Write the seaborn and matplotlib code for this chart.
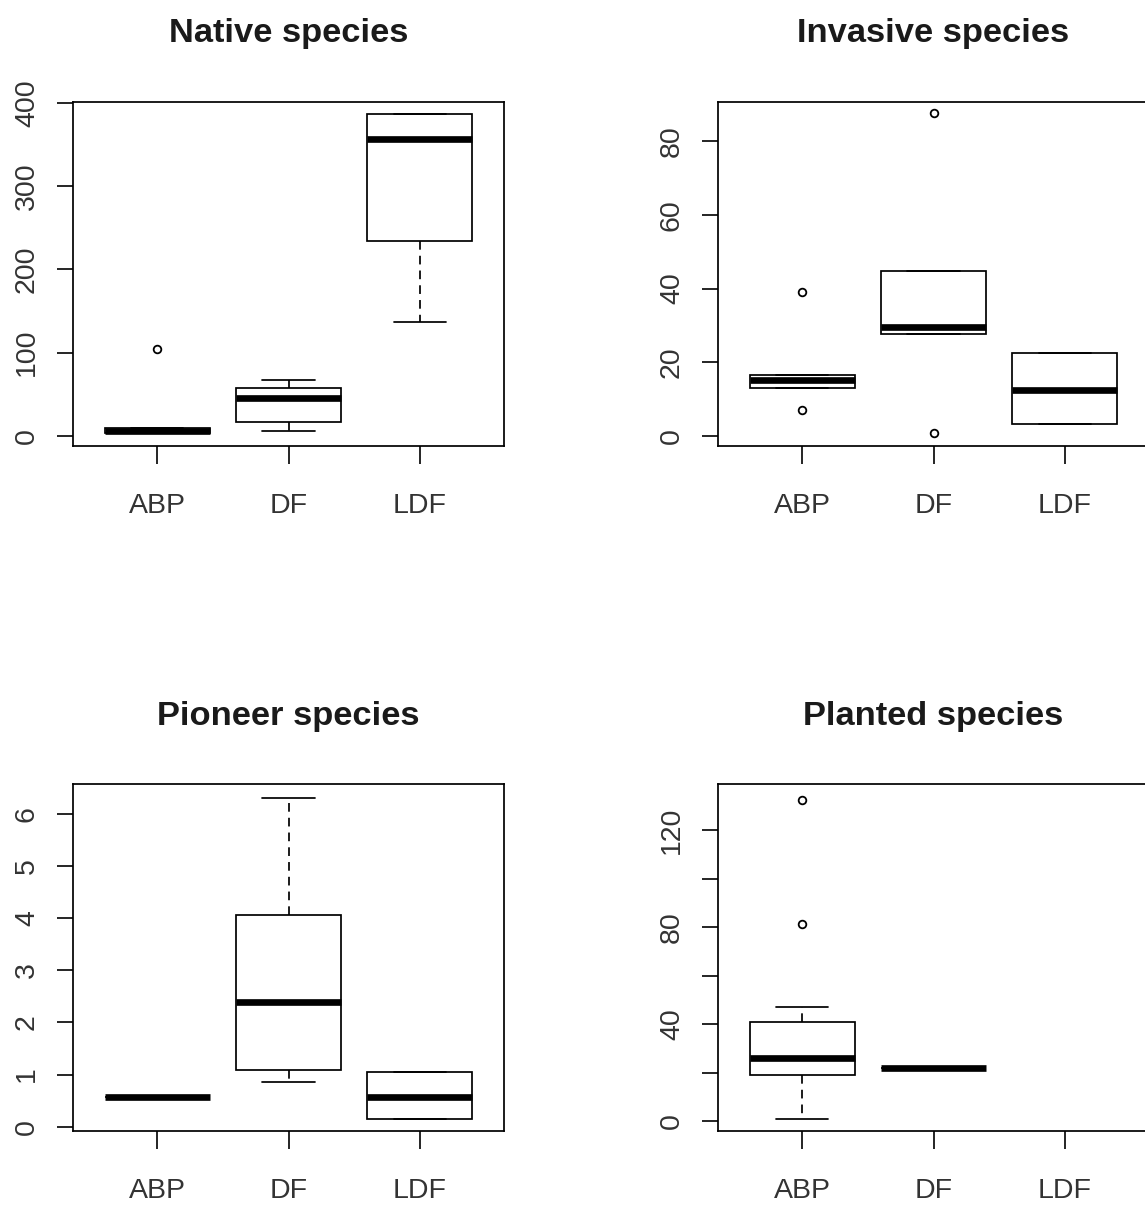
import matplotlib
matplotlib.use("Agg")
import matplotlib.pyplot as plt
import pandas as pd
import seaborn as sns

sites = ["ABP", "DF", "LDF"]

# sample values per site (quartiles, whiskers, outliers)
native_abp = [3, 3, 3, 5, 6, 8, 10, 10, 105]
native_df = [5.6, 12, 17, 30, 46, 52, 58, 63, 67]
native_ldf = [137, 180, 234, 300, 356, 370, 386, 386, 386]

invasive_abp = [7, 13, 13, 14, 15.2, 16, 16.6, 16.6, 39]
invasive_df = [0.7, 27.8, 27.8, 28.5, 29.6, 38, 44.8, 44.8, 87.5]
invasive_ldf = [3.25, 3.25, 3.25, 8, 12.5, 18, 22.4, 22.4, 22.4]

pioneer_abp = [0.57, 0.57, 0.57, 0.57, 0.57]
pioneer_df = [0.85, 1.0, 1.08, 1.8, 2.39, 3.2, 4.05, 5.1, 6.3]
pioneer_ldf = [0.15, 0.15, 0.15, 0.4, 0.565, 0.8, 1.04, 1.04, 1.04]

planted_abp = [0.8, 10, 15, 19, 21, 24, 26.2, 30, 36, 41.1, 47.2, 81.4, 132.6]
planted_df = [21.8, 21.8, 21.8]
planted_ldf = []

native_ticks = [0, 100, 200, 300, 400]
invasive_ticks = [0, 20, 40, 60, 80]
pioneer_ticks = [0, 1, 2, 3, 4, 5, 6]
planted_ticks = [0, 20, 40, 60, 80, 100, 120]
planted_labels = ["0", "", "40", "", "80", "", "120"]


def long_df(groups):
    rows = []
    for site, vals in zip(sites, groups):
        rows += [(site, v) for v in vals]
    return pd.DataFrame(rows, columns=["site", "value"])


sns.set_style("ticks")
plt.rcParams["font.family"] = ["Liberation Sans", "DejaVu Sans"]
plt.rcParams["axes.linewidth"] = 1.2
plt.rcParams["axes.edgecolor"] = "black"

fig = plt.figure(figsize=(11.45, 12.07), dpi=100)

panels = [
    ("Native species", [native_abp, native_df, native_ldf], (-12, 401),
     native_ticks, None, [0.0638, 0.6305, 0.3764, 0.2850]),
    ("Invasive species", [invasive_abp, invasive_df, invasive_ldf], (-2.7, 90.6),
     invasive_ticks, None, [0.6271, 0.6305, 0.3764, 0.2850]),
    ("Pioneer species", [pioneer_abp, pioneer_df, pioneer_ldf], (-0.09, 6.56),
     pioneer_ticks, None, [0.0638, 0.0626, 0.3764, 0.2875]),
    ("Planted species", [planted_abp, planted_df, planted_ldf], (-4.2, 139),
     planted_ticks, planted_labels, [0.6271, 0.0626, 0.3764, 0.2875]),
]

for title, groups, ylim, ticks, labels, pos in panels:
    ax = fig.add_axes(pos)
    df = long_df(groups)
    sns.boxplot(data=df, x="site", y="value", order=sites, ax=ax,
                color="white", linecolor="black", saturation=1,
                linewidth=1.25, width=0.8, whis=1.5, fliersize=5.5,
                whiskerprops={"linestyle": (0, (5, 3.5))},
                medianprops={"linewidth": 4.8, "solid_capstyle": "butt"},
                flierprops={"marker": "o", "markerfacecolor": "white",
                            "markeredgewidth": 1.3})
    ax.set_xlim(-0.64, 2.64)
    ax.set_ylim(*ylim)
    ax.set_yticks(ticks)
    if labels is not None:
        ax.set_yticklabels(labels)
    ax.set_xlabel("")
    ax.set_ylabel("")
    ax.set_title(title, fontsize=24.8, fontweight="bold", pad=43, color="#1a1a1a")
    ax.tick_params(axis="x", length=13, width=1.2, pad=20.6, labelsize=20.5,
                   labelcolor="#333333", color="black")
    ax.tick_params(axis="y", length=11.5, width=1.2, pad=12.3, labelsize=20.5,
                   labelcolor="#333333", color="black", labelrotation=90)
    for lab in ax.get_yticklabels():
        lab.set_va("center")
    for sp in ax.spines.values():
        sp.set_visible(True)
        sp.set_color("black")
        sp.set_linewidth(1.25)

fig.savefig("out.png", dpi=100)
